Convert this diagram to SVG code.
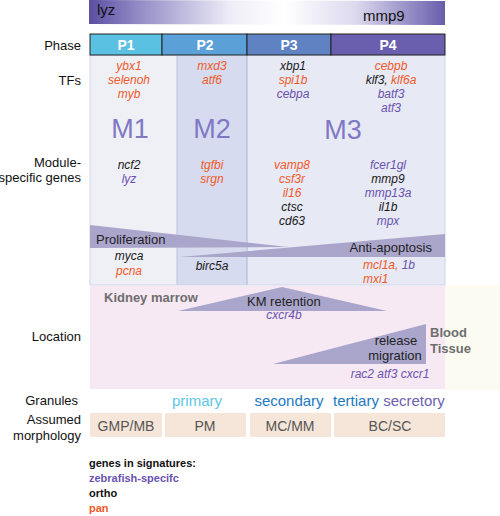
<svg xmlns="http://www.w3.org/2000/svg" width="500" height="516" viewBox="0 0 500 516">
<defs>
<linearGradient id="topgrad" x1="0" y1="0" x2="1" y2="0">
<stop offset="0" stop-color="#5a4fa2"/>
<stop offset="0.15" stop-color="#9690c8"/>
<stop offset="0.4" stop-color="#efeef8"/>
<stop offset="0.55" stop-color="#ffffff"/>
<stop offset="0.75" stop-color="#dcd9ee"/>
<stop offset="1" stop-color="#675dab"/>
</linearGradient>
</defs>
<style>
text{font-family:"Liberation Sans",Arial,sans-serif}
.lbl{font-size:13px;fill:#111;text-anchor:end}
.g{font-size:12px;font-style:italic;text-anchor:middle}
.o{fill:#f05a28}.k{fill:#1a1a1a}.p{fill:#6a52b0}
.ph{font-size:14px;font-weight:bold;fill:#fff;text-anchor:middle}
.M{font-size:27px;fill:#7f78c4;text-anchor:middle}
.wedge{fill:#aaa5cb}
.mor{fill:#f6e5d9}
.mt{font-size:14px;fill:#555;text-anchor:middle}
.leg{font-size:11px;font-weight:bold}
.loc{font-size:13px;font-weight:bold;fill:#6e6e6e}
</style>
<rect width="500" height="516" fill="#fff"/>

<g id="expression-gradient">
<polygon points="89,0 445,1 445,25 89,24" fill="url(#topgrad)"/>
<text x="97" y="15" font-size="15" fill="#111">lyz</text>
<text x="363" y="21" font-size="15" fill="#111">mmp9</text>
</g>

<g id="labels">
<text class="lbl" x="81" y="50">Phase</text>
<text class="lbl" x="81" y="85">TFs</text>
<text class="lbl" x="81" y="167">Module-</text>
<text class="lbl" x="81" y="182">specific genes</text>
<text class="lbl" x="81" y="341">Location</text>
<text class="lbl" x="78" y="405">Granules</text>
<text class="lbl" x="81" y="424">Assumed</text>
<text class="lbl" x="81" y="440">morphology</text>
</g>

<g id="panel">
<rect x="90" y="55" width="87" height="230" fill="#efeff6"/>
<rect x="177" y="55" width="70" height="230" fill="#d6dbef"/>
<rect x="247" y="55" width="198" height="230" fill="#e7e9f5"/>
<line x1="177" y1="55" x2="177" y2="285" stroke="#b9c4e3" stroke-width="1"/>
<line x1="247" y1="55" x2="247" y2="285" stroke="#b3bde0" stroke-width="1.2"/>
<rect x="90" y="55" width="355" height="230" fill="none" stroke="#cfd3e8" stroke-width="1"/>
</g>

<g id="location-panel">
<rect x="445" y="285" width="55" height="105" fill="#fcfbf1"/>
<rect x="90" y="286" width="355" height="103" fill="#f6e9f3"/>
</g>

<g id="phase">
<g id="P1"><rect x="90" y="34" width="72" height="21" fill="#5bc1e2" stroke="#222" stroke-width="1"/><text class="ph" x="126" y="50">P1</text></g>
<g id="P2"><rect x="162" y="34" width="85" height="21" fill="#5ba0d6" stroke="#222" stroke-width="1"/><text class="ph" x="205" y="50">P2</text></g>
<g id="P3"><rect x="247" y="34" width="84" height="21" fill="#5f82c3" stroke="#222" stroke-width="1"/><text class="ph" x="289" y="50">P3</text></g>
<g id="P4"><rect x="331" y="34" width="114" height="21" fill="#6a5fae" stroke="#222" stroke-width="1"/><text class="ph" x="388" y="50">P4</text></g>
</g>

<g id="TFs">
<text class="g o" x="129" y="70">ybx1</text>
<text class="g o" x="129" y="84">selenoh</text>
<text class="g o" x="129" y="98">myb</text>
<text class="g o" x="212" y="70">mxd3</text>
<text class="g o" x="212" y="84">atf6</text>
<text class="g k" x="293" y="70">xbp1</text>
<text class="g o" x="293" y="84">spi1b</text>
<text class="g p" x="293" y="98">cebpa</text>
<text class="g o" x="391" y="70">cebpb</text>
<text class="g" x="391" y="84"><tspan class="k">klf3, </tspan><tspan class="o">klf6a</tspan></text>
<text class="g p" x="391" y="98">batf3</text>
<text class="g p" x="391" y="112">atf3</text>
</g>

<g id="modules">
<g id="M1"><text class="M" x="130" y="138">M1</text>
<text class="g k" x="129" y="169">ncf2</text>
<text class="g p" x="129" y="183">lyz</text></g>
<g id="M2"><text class="M" x="212" y="138">M2</text>
<text class="g o" x="212" y="169">tgfbi</text>
<text class="g o" x="212" y="183">srgn</text></g>
<g id="M3"><text class="M" x="343" y="139">M3</text>
<text class="g o" x="292" y="169">vamp8</text>
<text class="g o" x="292" y="183">csf3r</text>
<text class="g o" x="292" y="197">il16</text>
<text class="g k" x="292" y="211">ctsc</text>
<text class="g k" x="292" y="225">cd63</text>
<text class="g p" x="388" y="169">fcer1gl</text>
<text class="g k" x="388" y="183">mmp9</text>
<text class="g p" x="388" y="197">mmp13a</text>
<text class="g k" x="388" y="211">il1b</text>
<text class="g p" x="388" y="225">mpx</text></g>
</g>

<g id="proliferation">
<polygon class="wedge" points="90,225 90,248 288,247"/>
<text x="96" y="244" font-size="13" fill="#222">Proliferation</text>
<text class="g k" x="129" y="260">myca</text>
<text class="g o" x="129" y="275">pcna</text>
</g>
<g id="anti-apoptosis">
<polygon class="wedge" points="180,257 445,234 445,257"/>
<text x="432" y="252" font-size="13" fill="#222" text-anchor="end">Anti-apoptosis</text>
<text class="g k" x="212" y="270">birc5a</text>
<text x="363" y="269" font-size="12" font-style="italic"><tspan class="o">mcl1a, </tspan><tspan class="p">1b</tspan></text>
<text class="o" x="363" y="283" font-size="12" font-style="italic">mxi1</text>
</g>

<g id="kidney-marrow">
<text class="loc" x="104" y="302">Kidney marrow</text>
</g>
<g id="km-retention">
<polygon class="wedge" points="178,311 282,287 387,311"/>
<text x="247" y="306" font-size="13" fill="#222">KM retention</text>
<text class="g p" x="284" y="319">cxcr4b</text>
</g>
<g id="release-migration">
<polygon class="wedge" points="273,364 426,324 426,364"/>
<text x="396" y="345" font-size="13" fill="#222" text-anchor="middle">release</text>
<text x="395" y="360" font-size="13" fill="#222" text-anchor="middle">migration</text>
<text class="g p" x="390" y="378">rac2 atf3 cxcr1</text>
</g>
<g id="blood-tissue">
<text class="loc" x="430" y="337" font-size="14">Blood</text>
<text class="loc" x="430" y="353" font-size="14">Tissue</text>
</g>

<g id="granules" font-size="15" text-anchor="middle">
<text x="197" y="406" fill="#5cc6e8">primary</text>
<text x="289" y="406" fill="#1c79c3">secondary</text>
<text x="356" y="406" fill="#1c79c3">tertiary</text>
<text x="414" y="406" fill="#6b60b0">secretory</text>
</g>

<g id="morphology">
<g id="GMP-MB"><rect class="mor" x="90" y="413" width="72" height="24"/><text class="mt" x="126" y="431">GMP/MB</text></g>
<g id="PM"><rect class="mor" x="165" y="413" width="81" height="24"/><text class="mt" x="205" y="431">PM</text></g>
<g id="MC-MM"><rect class="mor" x="250" y="413" width="81" height="24"/><text class="mt" x="290" y="431">MC/MM</text></g>
<g id="BC-SC"><rect class="mor" x="334" y="413" width="111" height="24"/><text class="mt" x="390" y="431">BC/SC</text></g>
</g>

<g id="legend">
<text class="leg" x="89" y="467" fill="#111">genes in signatures:</text>
<text class="leg" x="89" y="482" fill="#6a52b0">zebrafish-specifc</text>
<text class="leg" x="89" y="497" fill="#111">ortho</text>
<text class="leg" x="89" y="512" fill="#f05a28">pan</text>
</g>
</svg>
